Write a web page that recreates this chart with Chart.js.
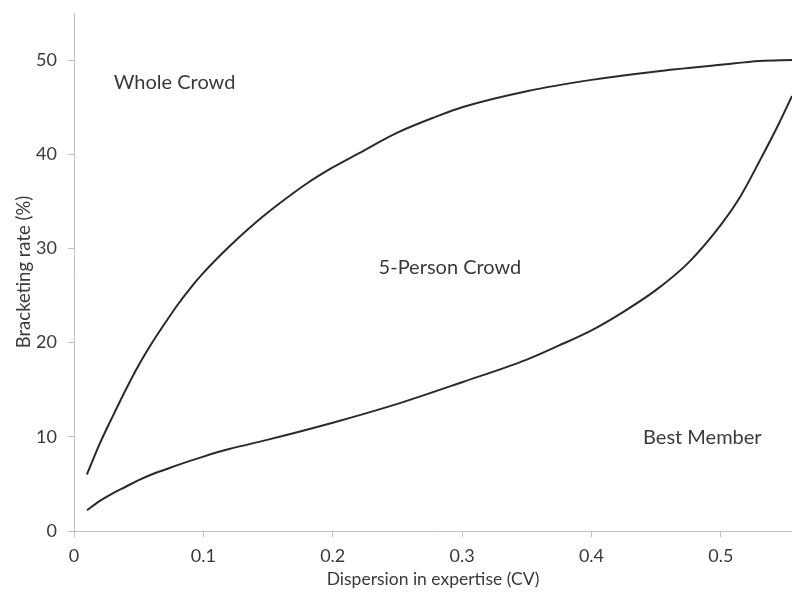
<!DOCTYPE html>
<html>
<head>
<meta charset="utf-8">
<script src="https://cdn.jsdelivr.net/npm/chart.js@4.4.1/dist/chart.umd.min.js"></script>
<style>
  body { margin: 0; background: #fff; }
  #wrap { width: 792px; height: 594px; }
</style>
</head>
<body>
<div id="wrap"><canvas id="chart"></canvas></div>
<script>
// data
const wholeX = [0.01, 0.02, 0.03, 0.04, 0.05, 0.06, 0.07, 0.08, 0.09, 0.1, 0.12, 0.14, 0.16, 0.18, 0.2, 0.22, 0.25, 0.28, 0.3, 0.35, 0.4, 0.45, 0.5, 0.53, 0.555];
const wholeY = [6, 9.3, 12.2, 15.0, 17.6, 19.9, 22.0, 24.0, 25.8, 27.4, 30.2, 32.7, 34.9, 36.9, 38.6, 40.1, 42.3, 44.0, 45.0, 46.7, 47.9, 48.8, 49.5, 49.9, 50.0];
const bestX = [0.01, 0.02, 0.03, 0.04, 0.05, 0.06, 0.07, 0.08, 0.1, 0.12, 0.15, 0.2, 0.25, 0.3, 0.35, 0.375, 0.4, 0.425, 0.45, 0.475, 0.5, 0.515, 0.53, 0.545, 0.555];
const bestY = [2.2, 3.2, 4.0, 4.7, 5.4, 6.0, 6.5, 7.0, 7.9, 8.7, 9.7, 11.5, 13.5, 15.8, 18.2, 19.7, 21.3, 23.3, 25.6, 28.5, 32.5, 35.5, 39.3, 43.3, 46.2];
const xTicks = [0, 0.1, 0.2, 0.3, 0.4, 0.5];
const yTicks = [0, 10, 20, 30, 40, 50];
const regionNames = ['Whole Crowd', '5-Person Crowd', 'Best Member'];
const regionX = [0.0777, 0.2906, 0.4857];
const regionY = [47.6, 28.0, 9.9];

const font = 'Lato, "Open Sans", sans-serif';
const lineColor = '#2a2a2a';
const axisColor = '#c0c0c0';
const textColor = '#3a3a3a';

function toPoints(xs, ys) {
    return xs.map(function (x, i) { return { x: x, y: ys[i] }; });
}

// writes the region names at data positions
const regionLabels = {
    id: 'regionLabels',
    afterDatasetsDraw(chart) {
        const ctx = chart.ctx;
        const xs = chart.scales.x;
        const ys = chart.scales.y;
        ctx.save();
        ctx.fillStyle = textColor;
        ctx.font = '20px ' + font;
        ctx.textAlign = 'center';
        ctx.textBaseline = 'middle';
        regionNames.forEach(function (name, i) {
            ctx.fillText(name, xs.getPixelForValue(regionX[i]), ys.getPixelForValue(regionY[i]));
        });
        ctx.restore();
    }
};

const lineStyle = {
    borderColor: lineColor,
    borderWidth: 2,
    pointRadius: 0,
    showLine: true,
    fill: false,
    cubicInterpolationMode: 'monotone'
};

new Chart(document.getElementById('chart'), {
    type: 'scatter',
    data: {
        datasets: [
            Object.assign({ label: 'Whole Crowd', data: toPoints(wholeX, wholeY) }, lineStyle),
            Object.assign({ label: 'Best Member', data: toPoints(bestX, bestY) }, lineStyle)
        ]
    },
    options: {
        responsive: true,
        maintainAspectRatio: false,
        animation: false,
        layout: { padding: { top: 13, right: 0, left: 0, bottom: 0 } },
        plugins: {
            legend: { display: false },
            tooltip: { enabled: false }
        },
        scales: {
            x: {
                type: 'linear',
                min: 0,
                max: 0.555,
                afterBuildTicks(scale) {
                    scale.ticks = xTicks.map(function (v) { return { value: v }; });
                },
                afterFit(scale) {
                    scale.height = 63;
                    scale.paddingLeft = 0;
                    scale.paddingRight = 0;
                },
                ticks: {
                    color: textColor,
                    font: { family: font, size: 18 },
                    padding: 8,
                    maxRotation: 0
                },
                grid: { drawOnChartArea: false, drawTicks: true, tickLength: 6, color: axisColor },
                border: { color: axisColor, width: 1 },
                title: {
                    display: true,
                    text: 'Dispersion in expertise (CV)',
                    color: textColor,
                    font: { family: font, size: 17.5 },
                    padding: { top: 0, bottom: 4 }
                }
            },
            y: {
                type: 'linear',
                min: 0,
                max: 55,
                afterBuildTicks(scale) {
                    scale.ticks = yTicks.map(function (v) { return { value: v }; });
                },
                afterFit(scale) {
                    scale.width = 74;
                    scale.paddingTop = 0;
                    scale.paddingBottom = 0;
                },
                ticks: {
                    color: textColor,
                    font: { family: font, size: 18 },
                    padding: 11
                },
                grid: { drawOnChartArea: false, drawTicks: true, tickLength: 6, color: axisColor },
                border: { color: axisColor, width: 1 },
                title: {
                    display: true,
                    text: 'Bracketing rate (%)',
                    color: textColor,
                    font: { family: font, size: 18.5 },
                    padding: { top: 13, bottom: 0 }
                }
            }
        }
    },
    plugins: [regionLabels]
});
</script>
</body>
</html>
